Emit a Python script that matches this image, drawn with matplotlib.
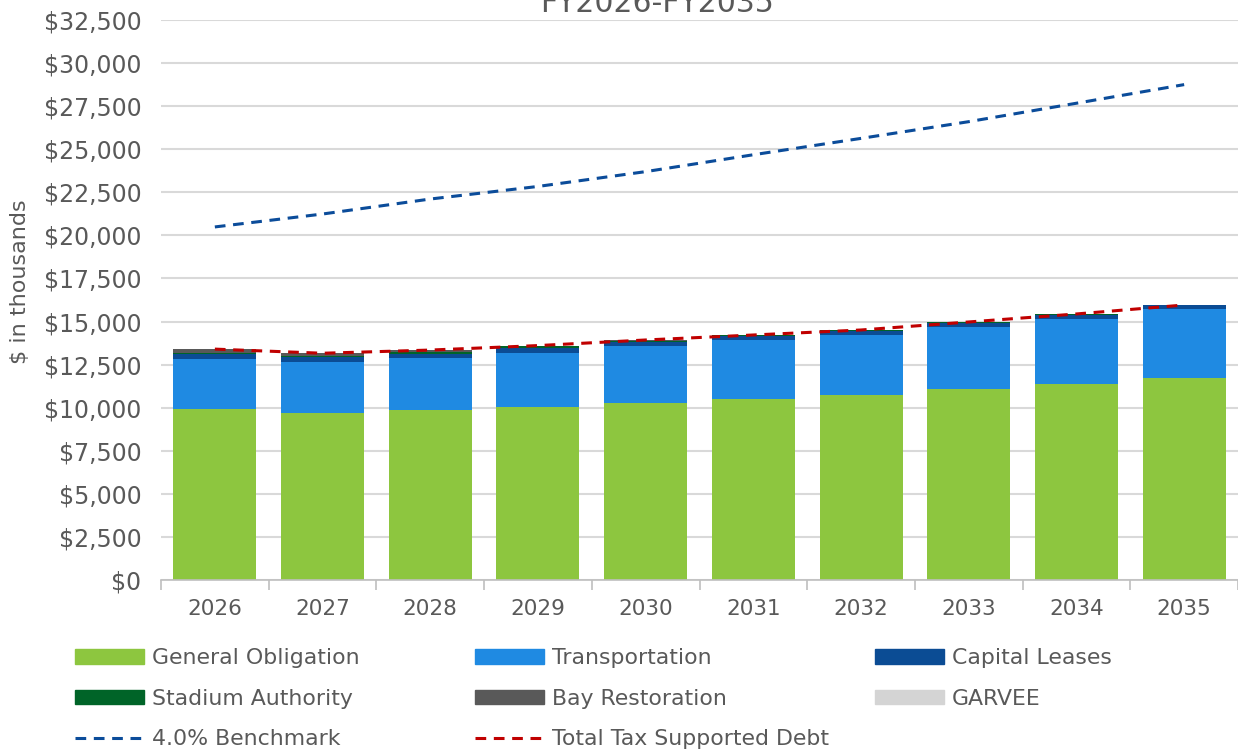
import numpy as np
import matplotlib.pyplot as plt
from matplotlib.patches import Patch
from matplotlib.lines import Line2D

plt.rcParams["font.family"] = ["DejaVu Sans"]

years = ["2026", "2027", "2028", "2029", "2030", "2031", "2032", "2033", "2034", "2035"]
general_obligation = [9925, 9710, 9885, 10040, 10275, 10505, 10740, 11085, 11375, 11725]
transportation = [2902, 2943, 3000, 3155, 3305, 3425, 3480, 3600, 3775, 4005]
capital_leases = [290, 272, 250, 288, 233, 213, 232, 250, 250, 230]
stadium_authority = [80, 70, 80, 80, 60, 60, 55, 40, 40, 0]
bay_restoration = [200, 160, 130, 40, 60, 40, 0, 0, 0, 0]
garvee = [0, 0, 0, 0, 0, 0, 0, 0, 0, 0]
benchmark = [20490, 21240, 22110, 22840, 23700, 24680, 25630, 26600, 27670, 28750]
total_debt = [13400, 13160, 13345, 13605, 13930, 14220, 14510, 14975, 15440, 15960]

series = [
    ("General Obligation", general_obligation, "#8DC63F"),
    ("Transportation", transportation, "#1F8AE2"),
    ("Capital Leases", capital_leases, "#0B4C94"),
    ("Stadium Authority", stadium_authority, "#006428"),
    ("Bay Restoration", bay_restoration, "#595959"),
    ("GARVEE", garvee, "#D4D4D4"),
]

grey = "#595959"
fig = plt.figure(figsize=(12.38, 7.53), dpi=100)
ax = fig.add_axes([161/1238, 1 - 580/753, 1 - 161/1238, 560/753])

x = np.arange(len(years))
bottom = np.zeros(len(years))
handles = {}
for name, vals, col in series:
    vals = np.array(vals, dtype=float)
    ax.bar(x, vals, 0.77, bottom=bottom, color=col, zorder=2)
    bottom += vals
    handles[name] = Patch(color=col, label=name)

dash = (0, (3.5, 2.5))
ax.plot(x, benchmark, color="#0B4C9A", lw=2.2, ls=dash, zorder=3)
ax.plot(x, total_debt, color="#C00000", lw=2.2, ls=dash, zorder=3)
handles["4.0% Benchmark"] = Line2D([], [], color="#0B4C9A", lw=2.2, ls=dash)
handles["Total Tax Supported Debt"] = Line2D([], [], color="#C00000", lw=2.2, ls=dash)

ax.set_xlim(-0.5, len(years) - 0.5)
ax.set_ylim(0, 32500)
ax.set_yticks(np.arange(0, 32501, 2500))
ax.set_yticklabels(["${:,}".format(v) for v in range(0, 32501, 2500)])
ax.set_xticks(x)
ax.set_xticklabels(years)
ax.set_xticks(np.arange(-0.5, len(years)), minor=True)
ax.tick_params(axis="x", which="major", length=0, pad=14, labelsize=15.5, labelcolor=grey)
ax.tick_params(axis="x", which="minor", length=7, color="#BFBFBF", width=1.2)
ax.tick_params(axis="y", length=0, pad=14, labelsize=17, labelcolor=grey)
ax.grid(axis="y", color="#D9D9D9", lw=1.5, zorder=0)
ax.set_axisbelow(True)
for s in ["left", "right", "top"]:
    ax.spines[s].set_visible(False)
ax.spines["bottom"].set_color("#BFBFBF")
ax.spines["bottom"].set_linewidth(1.2)

fig.text(20/1238, 1 - 282/753, "$ in thousands", rotation=90, ha="center", va="center",
         fontsize=16, color=grey)
fig.text(657/1238, 1 - 12/753, "FY2026-FY2035", ha="center", va="baseline",
         fontsize=21.5, color=grey)

columns = [
    (75, ["General Obligation", "Stadium Authority", "4.0% Benchmark"]),
    (475, ["Transportation", "Bay Restoration", "Total Tax Supported Debt"]),
    (875, ["Capital Leases", "GARVEE"]),
]
for xpos, names in columns:
    leg = fig.legend([handles[n] for n in names], names, loc="upper left",
                     bbox_to_anchor=(xpos/1238, 1 - 648/753), frameon=False,
                     fontsize=15.8, handlelength=3.15, handleheight=0.65,
                     handletextpad=0.35, labelspacing=0.94, borderaxespad=0,
                     borderpad=0)
    for t in leg.get_texts():
        t.set_color(grey)

fig.savefig("out.png", dpi=100)
